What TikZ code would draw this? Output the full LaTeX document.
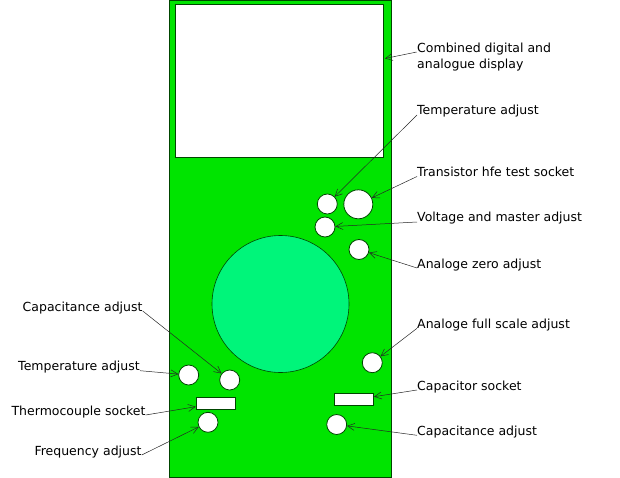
\documentclass[tikz,border=0pt]{standalone}
\usepackage{fontspec}
\setmainfont{DejaVu Sans}
\usetikzlibrary{arrows.meta}
\definecolor{bodygreen}{RGB}{0,228,0}
\definecolor{dialgreen}{RGB}{0,245,122}
\definecolor{edgegreen}{RGB}{0,70,0}
\begin{document}
\begin{tikzpicture}[x=1pt,y=-1pt,
  part/.style={draw=edgegreen,fill=white,line width=0.8pt,inner sep=0pt,circle,minimum size=20pt},
  bigpart/.style={part,minimum size=29pt},
  slot/.style={draw=edgegreen,fill=white,line width=0.6pt,inner sep=0pt,rectangle,minimum width=39pt,minimum height=12pt},
  lab/.style={font=\fontsize{12.5}{15.5}\selectfont,inner sep=0pt,align=left},
  ptr/.style={draw=black!85,line width=0.5pt,-{Straight Barb[length=7pt,width=7pt,line width=0.5pt]}}]
\useasboundingbox (0,0) rectangle (620,478);
% body
\node[draw=edgegreen,fill=bodygreen,line width=0.8pt,minimum width=222pt,minimum height=477pt,inner sep=0pt,anchor=north west] (body) at (169,0) {};
\node[draw=edgegreen,fill=white,line width=0.6pt,minimum width=208pt,minimum height=153pt,inner sep=0pt,anchor=north west] (disp) at (175,4) {};
\node[draw=edgegreen,fill=dialgreen,line width=0.6pt,circle,minimum size=137pt,inner sep=0pt] (dial) at (280.5,304) {};
% parts right
\node[part] (tempR) at (327.3,204) {};
\node[bigpart] (hfe) at (358.3,204.3) {};
\node[part] (volt) at (325,227) {};
\node[part] (zero) at (359,249.5) {};
\node[part] (full) at (372.3,362.7) {};
\node[slot] (capsock) at (353.7,399.7) {};
\node[part] (capR) at (336.7,424.5) {};
% parts left
\node[part] (tempL) at (188.7,375) {};
\node[part] (capL) at (229.7,380) {};
\node[slot] (thermo) at (215.7,403.3) {};
\node[part] (freq) at (208,422.3) {};
% labels right
\node[lab,anchor=base west] (lDisp) at (417,68.5) {Combined digital and\\analogue display};
\node[lab,anchor=base west] (lTempR) at (417,115) {Temperature adjust};
\node[lab,anchor=base west] (lHfe) at (417,176.5) {Transistor hfe test socket};
\node[lab,anchor=base west] (lVolt) at (417,222) {Voltage and master adjust};
\node[lab,anchor=base west] (lZero) at (417,268) {Analoge zero adjust};
\node[lab,anchor=base west] (lFull) at (417,328.3) {Analoge full scale adjust};
\node[lab,anchor=base west] (lCapSock) at (417,390) {Capacitor socket};
\node[lab,anchor=base west] (lCapR) at (417,435.3) {Capacitance adjust};
% labels left
\node[lab,anchor=base east] (lCapL) at (142.7,311) {Capacitance adjust};
\node[lab,anchor=base east] (lTempL) at (140,370.7) {Temperature adjust};
\node[lab,anchor=base east] (lThermo) at (145.7,415) {Thermocouple socket};
\node[lab,anchor=base east] (lFreq) at (141.7,455) {Frequency adjust};
% pointers
\coordinate (dispTip) at (385,58.5);
\coordinate (lDispStart) at (416.7,52);
\coordinate (capsockTip) at (374,396.7);
\coordinate (thermoTip) at (195.7,406.7);
\draw[ptr] (lDispStart) -- (dispTip);
\draw[ptr] (lTempR.base west) -- (tempR);
\draw[ptr] (lHfe.base west) -- (hfe);
\draw[ptr] (lVolt.base west) -- (volt);
\draw[ptr] (lZero.base west) -- (zero);
\draw[ptr] (lFull.base west) -- (full);
\draw[ptr] (lCapSock.base west) -- (capsockTip);
\draw[ptr] (lCapR.base west) -- (capR);
\draw[ptr] (lCapL.base east) -- (capL);
\draw[ptr] (lTempL.base east) -- (tempL);
\draw[ptr] (lThermo.base east) -- (thermoTip);
\draw[ptr] (lFreq.base east) -- (freq);
\end{tikzpicture}
\end{document}
